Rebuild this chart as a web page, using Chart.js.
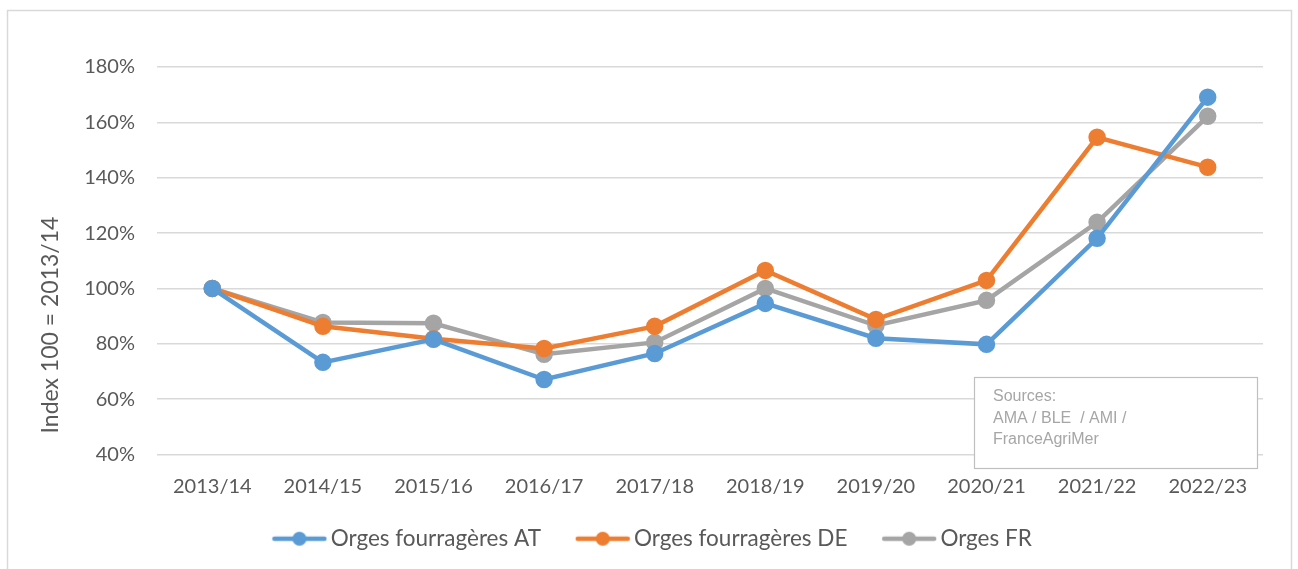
<!DOCTYPE html>
<html>
<head>
<meta charset="utf-8">
<script src="https://cdn.jsdelivr.net/npm/chart.js@4.4.0/dist/chart.umd.min.js"></script>
<style>
  html, body { margin: 0; padding: 0; background: #fff; }
  #wrap { width: 1298px; height: 569px; }
</style>
</head>
<body>
<div id="wrap"><canvas id="chart" width="1298" height="569"></canvas></div>
<script>
// Data (index 100 = 2013/14)
const seasons = ["2013/14", "2014/15", "2015/16", "2016/17", "2017/18", "2018/19", "2019/20", "2020/21", "2021/22", "2022/23"];
const orgesAT = [100, 73.3, 81.6, 67.1, 76.5, 94.6, 82.0, 79.8, 118.1, 169.1];
const orgesDE = [100, 86.3, 81.8, 78.3, 86.3, 106.5, 88.8, 102.9, 154.6, 143.8];
const orgesFR = [100, 87.7, 87.4, 76.2, 80.5, 100.0, 86.6, 95.7, 123.9, 162.2];
const yTicks = [40, 60, 80, 100, 120, 140, 160, 180];
const sourceLines = ["Sources:", "AMA / BLE  / AMI /", "FranceAgriMer"];

const textColor = "#595959";
const fontFamily = "Lato, 'Open Sans', sans-serif";

// legend marker: line with a dot, transparent space on the left acts as the gap between items
function legendMarker(color) {
  const c = document.createElement("canvas");
  c.width = 78; c.height = 16;
  const g = c.getContext("2d");
  g.strokeStyle = color;
  g.lineWidth = 4.5;
  g.lineCap = "round";
  g.beginPath(); g.moveTo(25, 8); g.lineTo(75, 8); g.stroke();
  g.fillStyle = color;
  g.beginPath(); g.arc(50, 8, 7, 0, Math.PI * 2); g.fill();
  return c;
}

function series(label, data, color) {
  return {
    label: label,
    data: data,
    borderColor: color,
    backgroundColor: color,
    pointBackgroundColor: color,
    pointBorderColor: color,
    pointStyle: "circle",
    borderWidth: 4.5,
    pointRadius: 6.5,
    pointHoverRadius: 6.5,
    tension: 0
  };
}

// frame, y title and the sources box
const decorations = {
  id: "decorations",
  afterLayout(chart) {
    // centre the legend on the whole canvas rather than the padded area
    chart.legend.left += 16;
    chart.legend.right += 16;
  },
  afterDraw(chart) {
    const ctx = chart.ctx;
    ctx.save();
    ctx.strokeStyle = "#d9d9d9";
    ctx.lineWidth = 1.5;
    ctx.strokeRect(7.5, 10.5, 1284, 580);

    ctx.fillStyle = textColor;
    ctx.font = "23px " + fontFamily;
    ctx.textAlign = "center";
    ctx.textBaseline = "middle";
    ctx.translate(51, 325);
    ctx.rotate(-Math.PI / 2);
    ctx.fillText("Index 100 = 2013/14", 0, 0);
    ctx.restore();

    ctx.save();
    ctx.fillStyle = "#fff";
    ctx.fillRect(974, 377, 284, 92);
    ctx.strokeStyle = "#bfbfbf";
    ctx.lineWidth = 1.2;
    ctx.strokeRect(974.5, 377.5, 283, 91);
    ctx.fillStyle = "#a6a6a6";
    ctx.font = "16px 'Liberation Sans', Arial, sans-serif";
    ctx.textBaseline = "middle";
    sourceLines.forEach((line, i) => ctx.fillText(line, 993, 397 + i * 21.5));
    ctx.restore();
  }
};

new Chart(document.getElementById("chart"), {
  type: "line",
  data: {
    labels: seasons,
    datasets: [
      series("Orges fourragères AT", orgesAT, "#5b9bd5"),
      series("Orges fourragères DE", orgesDE, "#ed7d31"),
      series("Orges FR", orgesFR, "#a5a5a5")
    ]
  },
  options: {
    responsive: false,
    animation: false,
    layout: { padding: { top: 67, right: 35, bottom: 9, left: 0 } },
    plugins: {
      legend: {
        position: "bottom",
        labels: {
          usePointStyle: true,
          pointStyleWidth: 62,
          padding: 14,
          color: textColor,
          font: { family: fontFamily, size: 22.5 },
          generateLabels(chart) {
            const items = Chart.defaults.plugins.legend.labels.generateLabels(chart);
            items.forEach(item => {
              item.pointStyle = legendMarker(chart.data.datasets[item.datasetIndex].borderColor);
              item.text = item.text + " ";
            });
            return items;
          }
        }
      },
      tooltip: { enabled: false }
    },
    scales: {
      x: {
        offset: true,
        grid: { display: false },
        border: { display: false },
        ticks: { color: textColor, font: { family: fontFamily, size: 20 }, padding: 12 },
        afterFit(scale) { scale.height = 59; }
      },
      y: {
        min: 40,
        max: 180,
        afterBuildTicks(scale) { scale.ticks = yTicks.map(v => ({ value: v })); },
        grid: { color: "#d9d9d9", lineWidth: 1.5, drawTicks: false },
        border: { display: false },
        ticks: {
          color: textColor,
          font: { family: fontFamily, size: 20 },
          padding: 22,
          callback: v => v + "%"
        },
        afterFit(scale) { scale.width = 157; }
      }
    }
  },
  plugins: [decorations]
});
</script>
</body>
</html>
